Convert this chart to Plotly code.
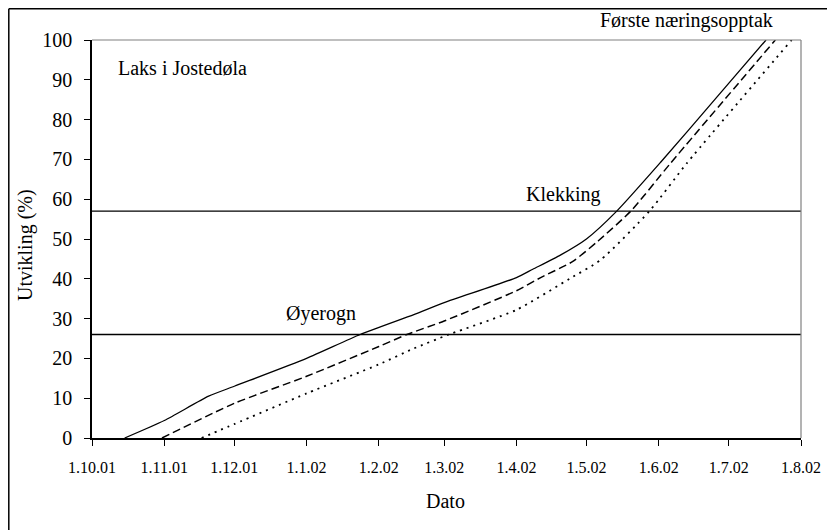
import plotly.graph_objects as go

# ---- data ----
solid_dates = ["2001-10-15", "2001-11-01", "2001-11-20", "2001-12-01", "2002-01-01",
               "2002-01-24", "2002-02-16", "2002-03-01", "2002-04-01", "2002-04-08",
               "2002-04-20", "2002-05-01", "2002-05-14", "2002-06-02", "2002-06-25",
               "2002-07-17"]
solid_vals = [0, 4.4, 10.5, 13, 20, 26, 31, 34, 40.3, 42.4, 46, 50, 57, 69.4, 85, 100]

dashed_dates = ["2001-10-31", "2001-12-01", "2002-01-01", "2002-02-01", "2002-02-13",
                "2002-03-01", "2002-04-01", "2002-04-12", "2002-04-25", "2002-05-06",
                "2002-05-20", "2002-06-06", "2002-07-21"]
dashed_vals = [0, 8.7, 15.5, 23, 26, 29.4, 37, 40.5, 44.3, 49.5, 57, 69, 100]

dotted_dates = ["2001-11-17", "2001-12-01", "2002-01-01", "2002-02-01", "2002-02-16",
                "2002-03-03", "2002-04-01", "2002-04-24", "2002-05-07", "2002-05-28",
                "2002-06-13", "2002-07-28"]
dotted_vals = [0, 3.5, 11.2, 18.5, 22.5, 26, 32.2, 40.1, 44.7, 57, 69, 100]

stage_names = ["Øyerogn", "Klekking", "Første næringsopptak"]
stage_levels = [26, 57, 100]

x_range = ["2001-10-01", "2002-08-01"]
tick_dates = ["2001-10-01", "2001-11-01", "2001-12-01", "2002-01-01", "2002-02-01",
              "2002-03-01", "2002-04-01", "2002-05-01", "2002-06-01", "2002-07-01",
              "2002-08-01"]
tick_labels = ["1.10.01", "1.11.01", "1.12.01", "1.1.02", "1.2.02", "1.3.02",
               "1.4.02", "1.5.02", "1.6.02", "1.7.02", "1.8.02"]
y_ticks = list(range(0, 101, 10))

FONT = "Liberation Serif, Times New Roman, serif"

fig = go.Figure()

# horizontal stage lines (Øyerogn, Klekking)
for lvl in stage_levels[:2]:
    fig.add_trace(go.Scatter(x=x_range, y=[lvl, lvl], mode="lines",
                             line=dict(color="black", width=1.4),
                             showlegend=False, hoverinfo="skip"))

fig.add_trace(go.Scatter(x=solid_dates, y=solid_vals, mode="lines",
                         line=dict(color="black", width=1.3, shape="spline", smoothing=0.6),
                         showlegend=False))
fig.add_trace(go.Scatter(x=dashed_dates, y=dashed_vals, mode="lines",
                         line=dict(color="black", width=1.5, dash="8px,4px",
                                   shape="spline", smoothing=0.6),
                         showlegend=False))
fig.add_trace(go.Scatter(x=dotted_dates, y=dotted_vals, mode="lines",
                         line=dict(color="black", width=1.8, dash="2px,5px",
                                   shape="spline", smoothing=0.6),
                         showlegend=False))

# target plot-area position in the window (pixels)
L, R, T, B = 92, 801, 40, 438
W, H = 835, 530
OFF = 8  # page body margin of the html
pw, ph = R - L, B - T


def px(x):
    return (x - L) / pw


def py(y):
    return (B - y) / ph


ann = []
ann.append(dict(text="Laks i Jostedøla", x=px(116), y=py(68), xanchor="left", yanchor="middle"))
ann.append(dict(text=stage_names[0], x=px(321), y=py(313), xanchor="center", yanchor="middle"))
ann.append(dict(text=stage_names[1], x=px(563), y=py(194), xanchor="center", yanchor="middle"))
ann.append(dict(text=stage_names[2], x=px(686), y=py(21), xanchor="center", yanchor="middle"))
ann.append(dict(text="Dato", x=px(445), y=py(501), xanchor="center", yanchor="middle"))
ann.append(dict(text="Utvikling (%)", x=px(26), y=py(245), xanchor="center", yanchor="middle",
                textangle=-90))
for a in ann:
    a.update(xref="paper", yref="paper", showarrow=False,
             font=dict(family=FONT, size=20, color="black"))

shapes = [
    # plot frame top and right (grey)
    dict(type="line", xref="paper", yref="paper", x0=0, x1=1, y0=1, y1=1,
         line=dict(color="#808080", width=1.2)),
    dict(type="line", xref="paper", yref="paper", x0=1, x1=1, y0=0, y1=1,
         line=dict(color="#808080", width=1.2)),
    # outer chart border (left and top visible)
    dict(type="line", xref="paper", yref="paper", x0=px(8.8), x1=px(8.8), y0=py(8.8), y1=py(560),
         line=dict(color="black", width=1.5)),
    dict(type="line", xref="paper", yref="paper", x0=px(8.8), x1=px(860), y0=py(8.8), y1=py(8.8),
         line=dict(color="black", width=1.5)),
]

fig.update_layout(
    width=W, height=H,
    margin=dict(l=L - OFF, r=W - R + OFF, t=T - OFF, b=H - B + OFF, pad=0),
    paper_bgcolor="white", plot_bgcolor="white",
    font=dict(family=FONT, color="black"),
    annotations=ann, shapes=shapes,
    showlegend=False,
)
fig.update_xaxes(type="date", range=x_range, tickvals=tick_dates, ticktext=tick_labels,
                 showgrid=False, zeroline=False, showline=True, linecolor="black", linewidth=1.5,
                 ticks="outside", ticklen=6, tickwidth=1.2, tickcolor="black",
                 tickfont=dict(family=FONT, size=16, color="black"), ticklabelstandoff=8)
fig.update_yaxes(range=[0, 100], tickvals=y_ticks,
                 showgrid=False, zeroline=False, showline=True, linecolor="black", linewidth=1.5,
                 ticks="outside", ticklen=6, tickwidth=1.2, tickcolor="black",
                 tickfont=dict(family=FONT, size=20, color="black"), ticklabelstandoff=8)

fig.write_html("out.html")
